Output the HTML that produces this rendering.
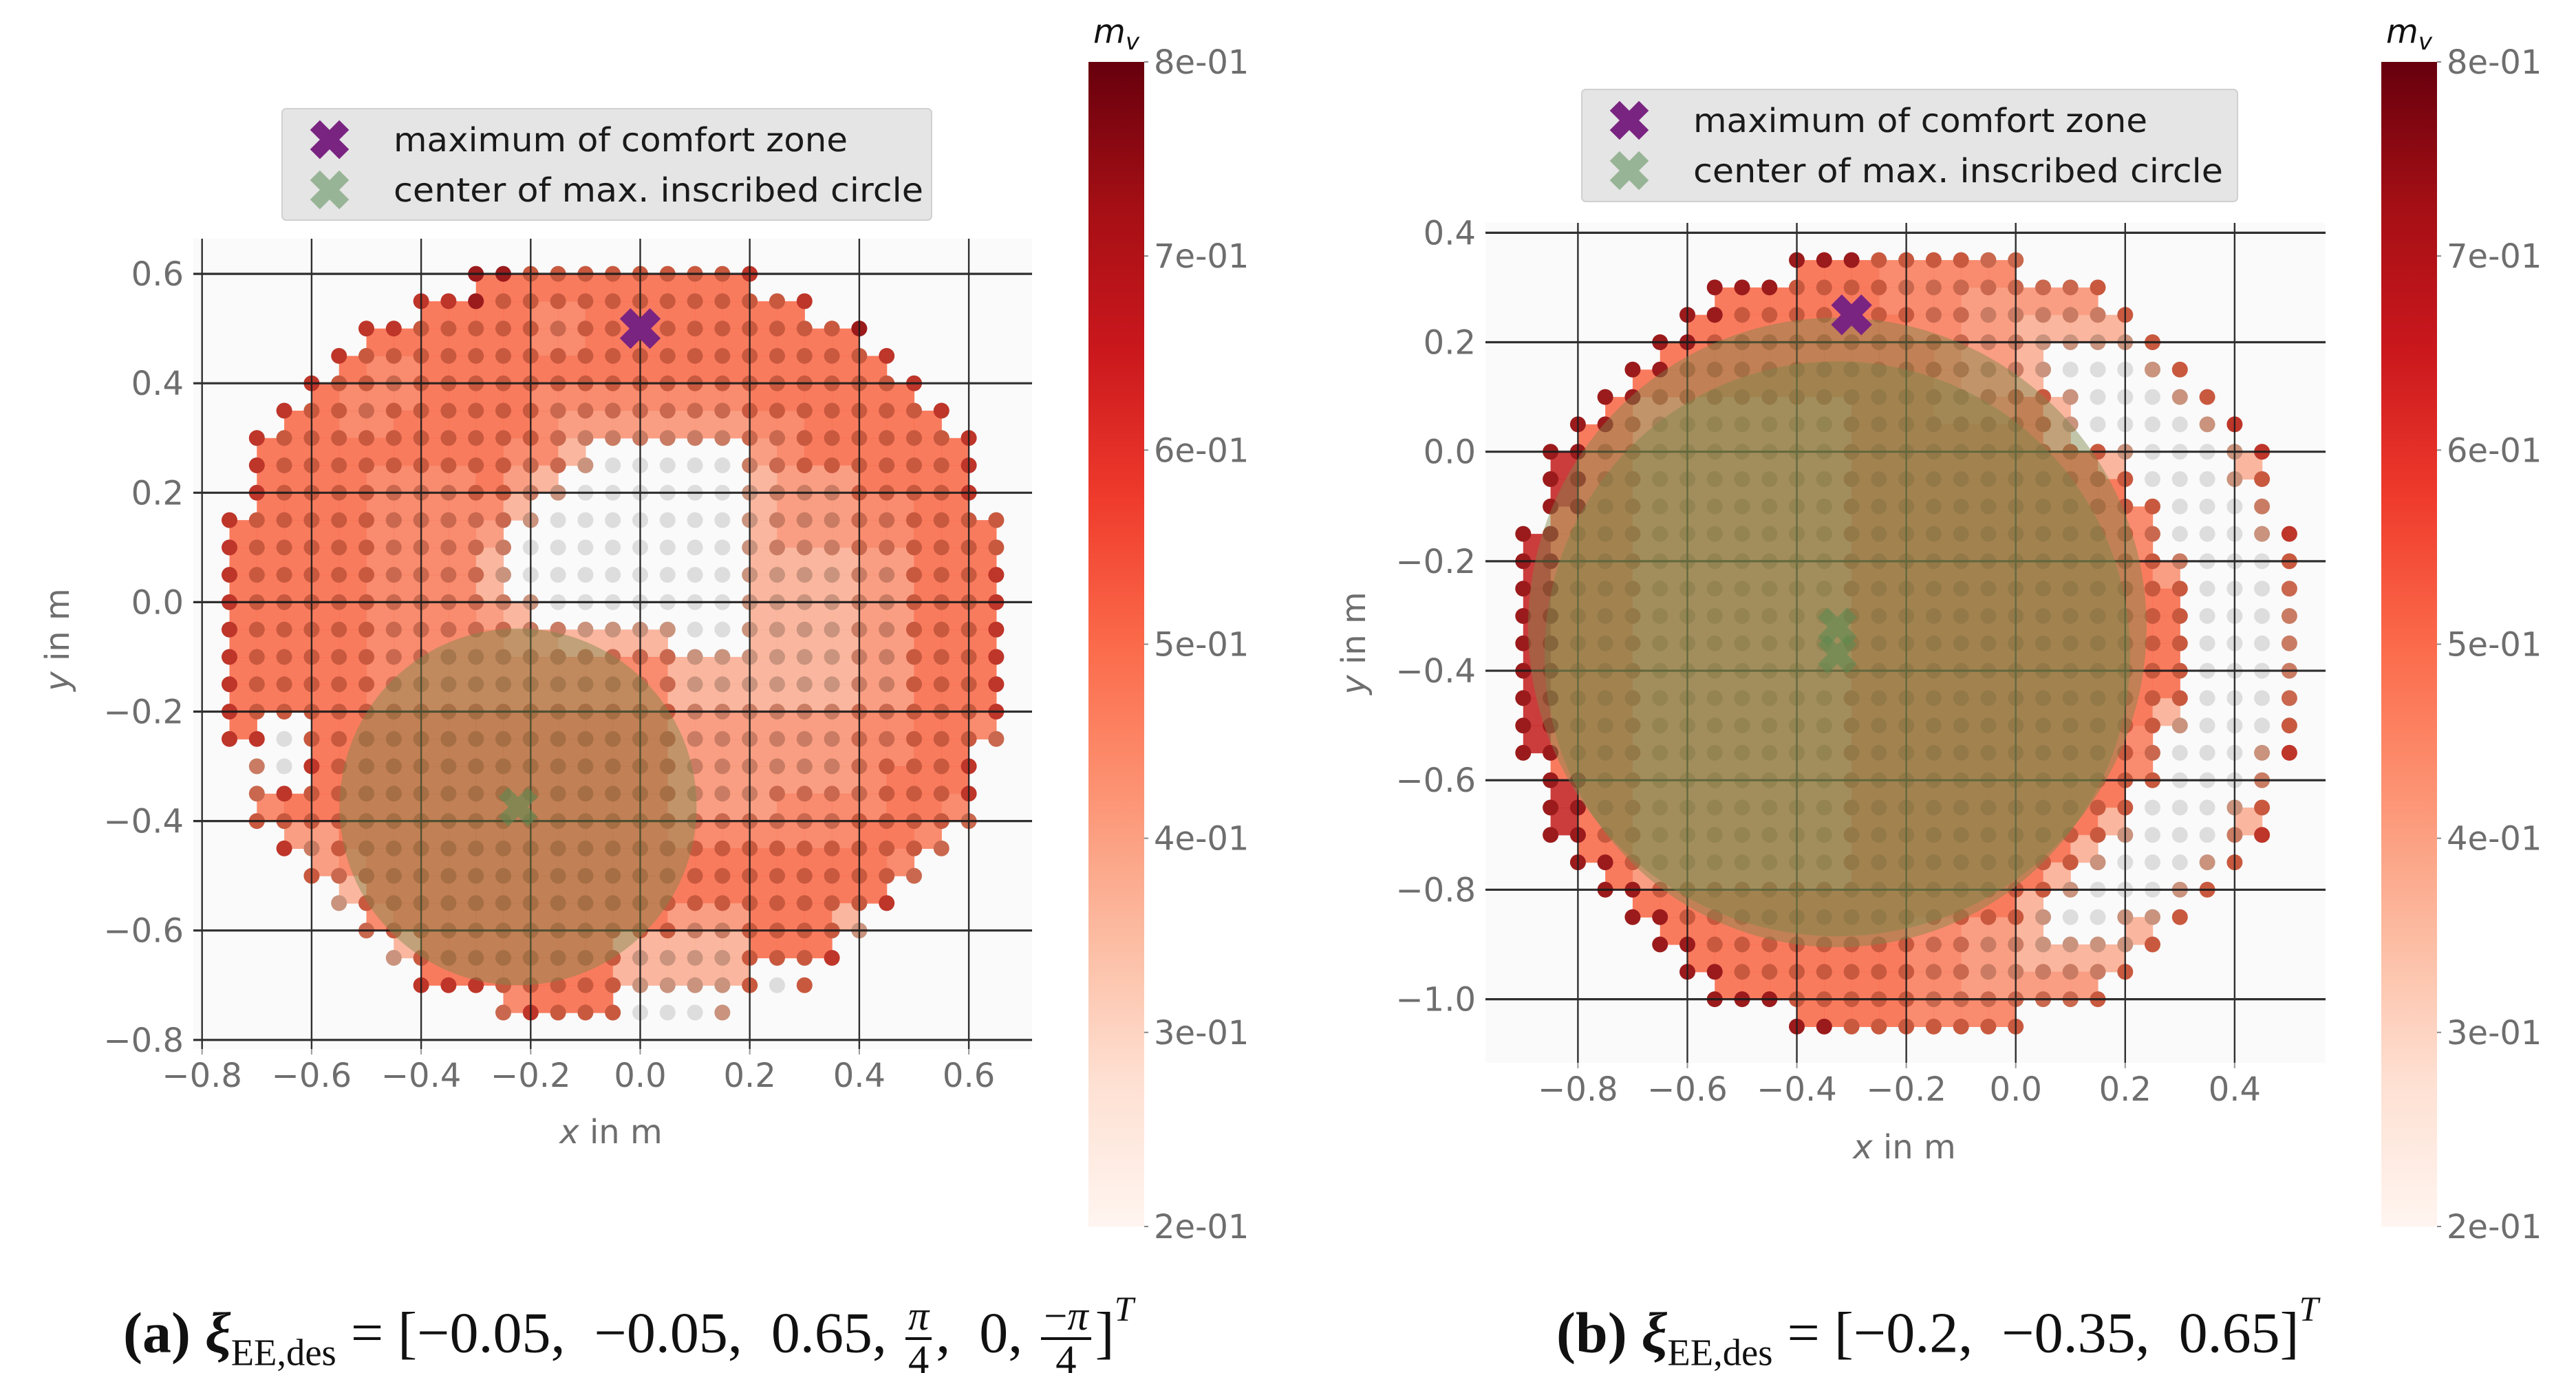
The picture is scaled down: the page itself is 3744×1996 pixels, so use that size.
<!DOCTYPE html>
<html><head><meta charset="utf-8">
<style>
html,body{margin:0;padding:0;background:#fff;}
#wrap{position:relative;width:3744px;height:1996px;overflow:hidden;}
svg{position:absolute;left:0;top:0;}
.cap{position:absolute;font-family:"Liberation Serif",serif;font-size:84px;line-height:1;color:#111;white-space:nowrap;}
.frac{display:inline-block;vertical-align:middle;text-align:center;font-size:0.72em;margin:0 6px;}
.frac span{display:block;padding:0 4px;}
.frac .den{border-top:4px solid #111;}
sub{font-size:0.65em;vertical-align:-0.35em;}
sup{font-size:0.6em;vertical-align:0.9em;font-style:italic;}
</style></head>
<body>
<div id="wrap">
<svg id="svg" width="3744" height="1996" viewBox="0 0 3744 1996" xmlns="http://www.w3.org/2000/svg">
<defs>
<linearGradient id="reds" x1="0" y1="1" x2="0" y2="0">
<stop offset="0" stop-color="#fff5f0"/><stop offset="0.125" stop-color="#fee0d2"/><stop offset="0.25" stop-color="#fcbba1"/><stop offset="0.375" stop-color="#fc9272"/><stop offset="0.5" stop-color="#fb6a4a"/><stop offset="0.625" stop-color="#ef3b2c"/><stop offset="0.75" stop-color="#cb181d"/><stop offset="0.875" stop-color="#a50f15"/><stop offset="1" stop-color="#67000d"/>
</linearGradient>
</defs>
</svg>
<div class="cap" style="left:179px;top:1878px;"><b>(a)</b> <b><i>ξ</i></b><sub>EE,des</sub> = [−0.05,&nbsp; −0.05,&nbsp; 0.65,&nbsp;<span class="frac"><span><i>π</i></span><span class="den">4</span></span>,&nbsp; 0,&nbsp;<span class="frac"><span>−<i>π</i></span><span class="den">4</span></span>]<sup>T</sup></div>
<div class="cap" style="left:2262px;top:1878px;"><b>(b)</b> <b><i>ξ</i></b><sub>EE,des</sub> = [−0.2,&nbsp; −0.35,&nbsp; 0.65]<sup>T</sup></div>
</div>
<script>
// ---- data ----
const levelCodes = ['3','4','5','6','7','8'];
const levelValues = [0.35, 0.41, 0.46, 0.50, 0.58, 0.68];
const gridStep = 0.05;

const leftXStart = -0.75, leftYStart = 0.6;
const leftRows = [
[9,"88666666667"],
[7,"778"+"66666666666"+"7"],
[5,"77"+"66666"+"5"+"6666666666"+"8"],
[4,"7"+"6666666666666666666"+"7"],
[3,"7"+"66"+"5"+"666666666666666666"+"7"],
[2,"7"+"66"+"5"+"666666"+"5555555"+"6666666"+"7"],
[1,"7"+"6666666666"+"5"+"444444"+"55"+"666666"+"7"],
[1,"7"+"666666666"+"55"+"3"+"ggggg"+"45"+"666666"+"7"],
[1,"7"+"6666"+"55"+"5"+"66"+"4"+"3"+"gggggg"+"3"+"444"+"6666"+"7"],
[0,"7"+"66666"+"555"+"55"+"3"+"ggggggg"+"3"+"444"+"55666"+"6"],
[0,"7"+"66666"+"5555"+"4"+"gggggggg"+"3"+"444"+"55666"+"6"],
[0,"7"+"66666"+"5555"+"3"+"gggggggg"+"3"+"333"+"44666"+"7"],
[0,"7"+"66666"+"5555"+"4"+"3"+"ggggggg"+"3"+"333"+"44666"+"7"],
[0,"7"+"66666"+"5555"+"5"+"44"+"3"+"333"+"gg"+"3"+"333"+"44666"+"7"],
[0,"7"+"66666"+"5555"+"5555555"+"33"+"3"+"333"+"44666"+"7"],
[0,"7"+"66666"+"5555"+"5555555"+"33"+"3"+"333"+"44666"+"7"],
[0,"7"+"666666666"+"6666666"+"44"+"4"+"444"+"55666"+"7"],
[0,"77"+"g"+"6"+"6666666666666"+"44"+"4444"+"55666"+"5"],
[1,"4"+"g"+"7"+"6666666666666"+"444444"+"5666"+"7"],
[1,"5"+"7"+"66666666666666"+"444555"+"5666"+"7"],
[1,"6"+"666666666666666"+"555555"+"6666"+"5"],
[2,"7"+"4"+"6666666666666"+"666666666"+"5"],
[3,"6"+"5"+"6666666666666"+"6666666"+"5"],
[4,"3"+"6666666666666"+"666666"+"7"],
[5,"5"+"66666666666"+"44"+"6666"+"3"],
[6,"3"+"66666666"+"3333"+"666"+"7"],
[7,"7"+"77"+"66666"+"3333"+"6"+"g"+"6"],
[10,"5"+"7"+"666"+"ggg"+"3"]
];
const leftMaxPoint = [0.0, 0.5];
const leftCircles = [[-0.223, -0.374, 0.326]];
const leftXTicks = [-0.8,-0.6,-0.4,-0.2,0.0,0.2,0.4,0.6];
const leftXTickLabels = ["−0.8","−0.6","−0.4","−0.2","0.0","0.2","0.4","0.6"];
const leftYTicks = [-0.8,-0.6,-0.4,-0.2,0.0,0.2,0.4,0.6];
const leftYTickLabels = ["−0.8","−0.6","−0.4","−0.2","0.0","0.2","0.4","0.6"];

const rightXStart = -0.9, rightYStart = 0.35;
const rightRows = [
[10,"888666655"],
[7,"888666655555556"],
[6,"88666666655444446"],
[5,"88"+"666666666"+"544"+"3333"+"6"],
[4,"88"+"6666666666"+"544"+"3ggg36"],
[3,"88"+"66666666666"+"5566"+"3ggg36"],
[2,"88"+"6"+"4444444"+"66666666"+"3gggg37"],
[1,"88"+"66"+"4444444"+"6666666666"+"3ggg37"],
[1,"88"+"66"+"4444444"+"66666666666"+"ggg36"],
[1,"88"+"66"+"4444444"+"666666666666"+"ggg4"],
[0,"88"+"666"+"4444444"+"66666666666"+"5"+"ggg37"],
[0,"88"+"666"+"4444444"+"666666666666"+"4"+"ggg"+"6"],
[0,"88"+"666"+"4444444"+"6666666666666"+"ggg5"],
[0,"88"+"666"+"4444444"+"6666666666666"+"ggg4"],
[0,"88"+"666"+"4444444"+"6666666666666"+"ggg4"],
[0,"88"+"666"+"4444444"+"6666666666666"+"ggg4"],
[0,"88"+"666"+"4444444"+"6666666666666"+"ggg5"],
[0,"88"+"666"+"4444444"+"666666666666"+"3"+"ggg6"],
[0,"88"+"666"+"4444444"+"66666666666"+"5"+"ggg37"],
[1,"88"+"66"+"4444444"+"666666666666"+"ggg4"],
[1,"88"+"66"+"4444444"+"6666666666"+"6ggg36"],
[1,"88"+"66"+"4444444"+"6666666666"+"3ggg47"],
[2,"88"+"6"+"4444444"+"666666666"+"3ggg36"],
[3,"88"+"666666666666666"+"3ggg36"],
[4,"88"+"6666666666666"+"3gg336"],
[5,"88"+"66666666"+"5544"+"3333"+"6"],
[6,"88"+"6666666"+"5544444"+"6"],
[7,"888"+"66666"+"555555"+"6"],
[10,"886666666"]
];
const rightMaxPoint = [-0.3, 0.25];
const rightCircles = [[-0.326, -0.32, 0.565],[-0.326, -0.37, 0.535]];
const rightXTicks = [-0.8,-0.6,-0.4,-0.2,0.0,0.2,0.4];
const rightXTickLabels = ["−0.8","−0.6","−0.4","−0.2","0.0","0.2","0.4"];
const rightYTicks = [-1.0,-0.8,-0.6,-0.4,-0.2,0.0,0.2,0.4];
const rightYTickLabels = ["−1.0","−0.8","−0.6","−0.4","−0.2","0.0","0.2","0.4"];

const cbarTicks = [0.2,0.3,0.4,0.5,0.6,0.7,0.8];
const cbarTickLabels = ["2e-01","3e-01","4e-01","5e-01","6e-01","7e-01","8e-01"];
const vmin = 0.2, vmax = 0.8;

// ---- rendering ----
const NS = "http://www.w3.org/2000/svg";
const svg = document.getElementById('svg');
function mk(tag, attrs, parent){
  const e = document.createElementNS(NS, tag);
  for (const k in attrs) e.setAttribute(k, attrs[k]);
  (parent||svg).appendChild(e);
  return e;
}
const redsStops = [[0,[255,245,240]],[0.125,[254,224,210]],[0.25,[252,187,161]],[0.375,[252,146,114]],[0.5,[251,106,74]],[0.625,[239,59,44]],[0.75,[203,24,29]],[0.875,[165,15,21]],[1,[103,0,13]]];
function reds(v){
  let t = Math.max(0, Math.min(1, (v - vmin)/(vmax - vmin)));
  for (let i=0;i<redsStops.length-1;i++){
    const a=redsStops[i], b=redsStops[i+1];
    if (t<=b[0]){ const f=(t-a[0])/(b[0]-a[0]); return [0,1,2].map(k=>a[1][k]+(b[1][k]-a[1][k])*f); }
  }
  return redsStops[redsStops.length-1][1];
}
function rgb(c){ return 'rgb('+c.map(x=>Math.round(x)).join(',')+')'; }
function mix(c, d, f){ return c.map((x,i)=>x*(1-f)+d[i]*f); }
function xMarker(g, cx, cy, a, b, fill, opacity){
  const pts = [[b,a],[b,b],[a,b],[a,-b],[b,-b],[b,-a],[-b,-a],[-b,-b],[-a,-b],[-a,b],[-b,b],[-b,a]];
  const c = Math.SQRT1_2;
  const p = pts.map(([x,y])=>[(x-y)*c+cx,(x+y)*c+cy].map(v=>v.toFixed(1)).join(',')).join(' ');
  return mk('polygon',{points:p, fill:fill, opacity:opacity||1}, g);
}

function drawPanel(cfg){
  const g = mk('g',{});
  
  
  const X = v => cfg.x0 + v*cfg.sx;
  const Y = v => cfg.y0 - v*cfg.sy;
  const [L,T,R,B] = cfg.ax;
  const bg = mk('rect',{x:L,y:T,width:R-L,height:B-T,fill:'#fafafa'}, g);
  
  
  const grid = {};
  cfg.rows.forEach((row, r)=>{
    const start=row[0], codes=row[1];
    for (let i=0;i<codes.length;i++){
      const ch = codes[i];
      if (ch===' ') continue;
      const idx = levelCodes.indexOf(ch);
      grid[r+','+(start+i)] = ch==='g' ? 'g' : levelValues[idx];
    }
  });
  const val = (r,c)=>grid[r+','+c];
  const cellG = mk('g',{}, g);
  
  
  for (let r=0;r<cfg.rows.length-1;r++){
    for (let c=0;c<29;c++){
      const vs=[val(r,c),val(r,c+1),val(r+1,c),val(r+1,c+1)];
      if (vs.some(v=>v===undefined||v==='g')) continue;
      const m = Math.min(...vs);
      const x1 = X(cfg.xs + c*gridStep), x2 = X(cfg.xs + (c+1)*gridStep);
      const y1 = Y(cfg.ys - r*gridStep), y2 = Y(cfg.ys - (r+1)*gridStep);
      const cell = mk('rect',{x:x1.toFixed(1),y:y1.toFixed(1),width:(x2-x1+0.6).toFixed(1),height:(y2-y1+0.6).toFixed(1),fill:rgb(mix(reds(m),[235,120,90],0.2)),'fill-opacity':0.9}, cellG);
      
      
    }
  }
  const dotG = mk('g',{}, g);
  
  
  for (const key in grid){
    const [r,c] = key.split(',').map(Number);
    const v = grid[key];
    const fill = v==='g' ? '#dddddd' : rgb(mix(reds(v),[70,45,35],0.28));
    const dot = mk('circle',{cx:X(cfg.xs + c*gridStep).toFixed(1), cy:Y(cfg.ys - r*gridStep).toFixed(1), r:11.5, fill: fill}, dotG);
    
    
  }
  const gl = mk('g',{stroke:'#1a1a1a','stroke-width':3.2,opacity:0.9}, g);
  
  
  cfg.xTicks.forEach(v=>{ mk('line',{x1:X(v),x2:X(v),y1:T,y2:B,'stroke-width':2.4}, gl); });
  cfg.yTicks.forEach(v=>{ mk('line',{x1:L,x2:R,y1:Y(v),y2:Y(v)}, gl); });
  cfg.circles.forEach(([cx,cy,rad])=>{
    const e = mk('ellipse',{cx:X(cx),cy:Y(cy),rx:rad*cfg.sx,ry:rad*cfg.sy,fill:'rgb(125,135,75)','fill-opacity':0.45}, g);
    
    
  });
  cfg.circles.forEach(([cx,cy])=>{
    const m = xMarker(g, X(cx), Y(cy), 30, 10, '#5f8a52', 0.6);
    
    
  });
  const pm = xMarker(g, X(cfg.maxPt[0]), Y(cfg.maxPt[1]), 31, 11, '#7a2482');
  
  
  cfg.xTicks.forEach((v,i)=>{
    mk('line',{x1:X(v),x2:X(v),y1:B,y2:B+8,stroke:'#999','stroke-width':2}, g);
    const t = mk('text',{x:X(v),y:cfg.xLabY,'text-anchor':'middle','font-family':'DejaVu Sans, sans-serif','font-size':48,fill:'#6e6e6e'}, g);
    t.textContent = cfg.xLabels[i];
    
    
  });
  cfg.yTicks.forEach((v,i)=>{
    const t = mk('text',{x:L-14,y:Y(v)+17,'text-anchor':'end','font-family':'DejaVu Sans, sans-serif','font-size':48,fill:'#6e6e6e'}, g);
    t.textContent = cfg.yLabels[i];
    
    
  });
  const xl = mk('text',{x:cfg.xTitle[0],y:cfg.xTitle[1],'text-anchor':'middle','font-family':'DejaVu Sans, sans-serif','font-size':48,fill:'#6e6e6e'}, g);
  xl.innerHTML = '<tspan font-style="italic">x</tspan> in m';
  
  
  const yl = mk('text',{x:0,y:0,transform:'translate('+cfg.yTitle[0]+','+cfg.yTitle[1]+') rotate(-90)','text-anchor':'middle','font-family':'DejaVu Sans, sans-serif','font-size':48,fill:'#6e6e6e'}, g);
  yl.innerHTML = '<tspan font-style="italic">y</tspan> in m';
  
  
  const [lx,ly,lw,lh] = cfg.legend;
  const lg = mk('g',{}, g);
  
  
  mk('rect',{x:lx,y:ly,width:lw,height:lh,rx:6,fill:'#e5e5e5',stroke:'#d0d0d0','stroke-width':2}, lg);
  const e1 = xMarker(lg, lx+69, ly+45, 30, 10, '#7a2482');
  
  
  const e2 = xMarker(lg, lx+69, ly+118, 30, 10, '#98b496');
  
  
  const t1 = mk('text',{x:lx+162,y:ly+62,'font-family':'DejaVu Sans, sans-serif','font-size':48,fill:'#1a1a1a',textLength:660,lengthAdjust:'spacingAndGlyphs'}, lg);
  t1.textContent = 'maximum of comfort zone';
  
  
  const t2 = mk('text',{x:lx+162,y:ly+135,'font-family':'DejaVu Sans, sans-serif','font-size':48,fill:'#1a1a1a',textLength:770,lengthAdjust:'spacingAndGlyphs'}, lg);
  t2.textContent = 'center of max. inscribed circle';
  
  
  const [cx,cy,cw,ch] = cfg.cbar;
  const cb = mk('g',{}, g);
  
  
  mk('rect',{x:cx,y:cy,width:cw,height:ch,fill:'url(#reds)'}, cb);
  const CY = v => cy + ch - (v - vmin)/(vmax - vmin)*ch;
  cbarTicks.forEach((v,i)=>{
    mk('line',{x1:cx+cw,x2:cx+cw+6,y1:CY(v),y2:CY(v),stroke:'#888','stroke-width':2}, cb);
    const t = mk('text',{x:cx+cw+14,y:CY(v)+17,'font-family':'DejaVu Sans, sans-serif','font-size':48,fill:'#6e6e6e'}, cb);
    t.textContent = cbarTickLabels[i];
    
    
  });
  const mv = mk('text',{x:cx+cw/2,y:cy-28,'text-anchor':'middle','font-family':'DejaVu Sans, sans-serif','font-size':48,fill:'#111'}, cb);
  mv.innerHTML = '<tspan font-style="italic">m</tspan><tspan font-style="italic" font-size="34" dy="10">v</tspan>';
  
  
}

drawPanel({name:'panel-a', x0:930.5, sx:796, y0:875.4, sy:795.5, ax:[281,347,1500,1525],
  rows:leftRows, xs:leftXStart, ys:leftYStart, maxPt:leftMaxPoint, circles:leftCircles,
  xTicks:leftXTicks, xLabels:leftXTickLabels, yTicks:leftYTicks, yLabels:leftYTickLabels,
  xLabY:1580, xTitle:[888,1662], yTitle:[100,930], legend:[410,158,944,162], cbar:[1582,90,81,1693]});
drawPanel({name:'panel-b', x0:2929.7, sx:795.4, y0:656.7, sy:795.9, ax:[2159,324,3380,1545],
  rows:rightRows, xs:rightXStart, ys:rightYStart, maxPt:rightMaxPoint, circles:rightCircles,
  xTicks:rightXTicks, xLabels:rightXTickLabels, yTicks:rightYTicks, yLabels:rightYTickLabels,
  xLabY:1600, xTitle:[2768,1684], yTitle:[1984,935], legend:[2299,130,953,163], cbar:[3461,90,81,1693]});
</script>
</body></html>
